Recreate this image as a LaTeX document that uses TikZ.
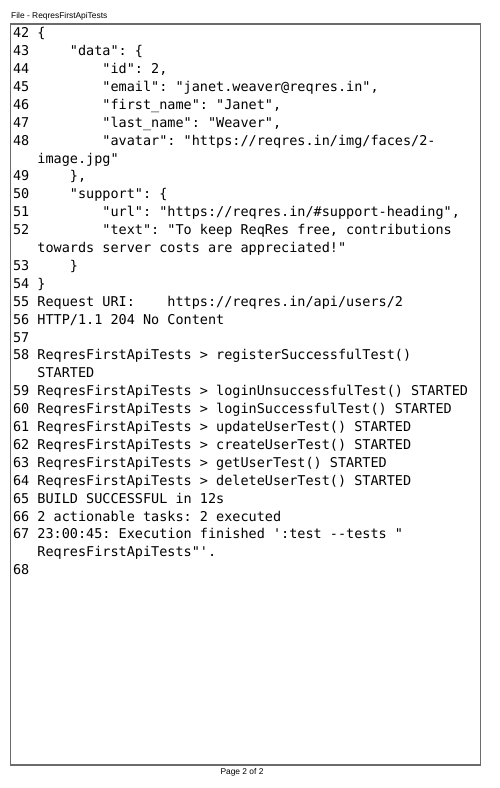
\documentclass[tikz,border=0pt]{standalone}
\usepackage{fontspec}
\setmainfont{Liberation Sans}
\setmonofont{DejaVu Sans Mono}
\usepackage{xcolor}
\usepackage{tikz}
\usetikzlibrary{positioning}

\begin{document}
\begin{tikzpicture}[
  x=1pt, y=-1pt,
  code/.style={anchor=base west, inner sep=0pt, font=\fontsize{13.5}{16}\ttfamily},
  caption/.style={inner sep=0pt, font=\fontsize{8.4}{10}\selectfont},
  frame/.style={draw=black!58, line width=1.3pt}
]
\useasboundingbox (0,0) rectangle (500,788);

% Header and frame
\node[caption, anchor=base west] (title) at (11,18.3) {File - ReqresFirstApiTests};
\draw[frame] (10.7,24) rectangle (480.7,765);
\node[caption, anchor=base] (page) at (242,774) {Page 2 of 2};

% Log lines
\node[code] (l42) at (12.8,37.7) {42 \{};
\node[code] (l43) at (12.8,55.6) {43~~~~~"data": \{};
\node[code] (l44) at (12.8,73.5) {44~~~~~~~~~"id": 2,};
\node[code] (l45) at (12.8,91.4) {45~~~~~~~~~"email": "janet.weaver@reqres.in",};
\node[code] (l46) at (12.8,109.3) {46~~~~~~~~~"first\_name": "Janet",};
\node[code] (l47) at (12.8,127.2) {47~~~~~~~~~"last\_name": "Weaver",};
\node[code] (l48) at (12.8,145.1) {48~~~~~~~~~"avatar": "https://reqres.in/img/faces/2-};
\node[code] (l48b) at (12.8,163.0) {~~~image.jpg"};
\node[code] (l49) at (12.8,180.9) {49~~~~~\},};
\node[code] (l50) at (12.8,198.8) {50~~~~~"support": \{};
\node[code] (l51) at (12.8,216.7) {51~~~~~~~~~"url": "https://reqres.in/\#support-heading",};
\node[code] (l52) at (12.8,234.6) {52~~~~~~~~~"text": "To keep ReqRes free, contributions};
\node[code] (l52b) at (12.8,252.5) {~~~towards server costs are appreciated!"};
\node[code] (l53) at (12.8,270.4) {53~~~~~\}};
\node[code] (l54) at (12.8,288.3) {54 \}};
\node[code] (l55) at (12.8,306.2) {55 Request URI:~~~~https://reqres.in/api/users/2};
\node[code] (l56) at (12.8,324.1) {56 HTTP/1.1 204 No Content};
\node[code] (l57) at (12.8,342.0) {57};
\node[code] (l58) at (12.8,359.9) {58 ReqresFirstApiTests > registerSuccessfulTest()};
\node[code] (l58b) at (12.8,377.8) {~~~STARTED};
\node[code] (l59) at (12.8,395.7) {59 ReqresFirstApiTests > loginUnsuccessfulTest() STARTED};
\node[code] (l60) at (12.8,413.6) {60 ReqresFirstApiTests > loginSuccessfulTest() STARTED};
\node[code] (l61) at (12.8,431.5) {61 ReqresFirstApiTests > updateUserTest() STARTED};
\node[code] (l62) at (12.8,449.4) {62 ReqresFirstApiTests > createUserTest() STARTED};
\node[code] (l63) at (12.8,467.3) {63 ReqresFirstApiTests > getUserTest() STARTED};
\node[code] (l64) at (12.8,485.2) {64 ReqresFirstApiTests > deleteUserTest() STARTED};
\node[code] (l65) at (12.8,503.1) {65 BUILD SUCCESSFUL in 12s};
\node[code] (l66) at (12.8,521.0) {66 2 actionable tasks: 2 executed};
\node[code] (l67) at (12.8,538.9) {67 23:00:45: Execution finished ':test --tests "};
\node[code] (l67b) at (12.8,556.8) {~~~ReqresFirstApiTests"'.};
\node[code] (l68) at (12.8,574.7) {68};

\end{tikzpicture}
\end{document}
